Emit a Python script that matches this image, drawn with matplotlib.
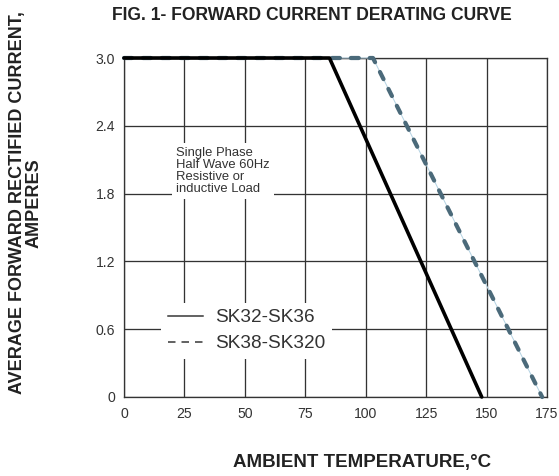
import matplotlib
matplotlib.use("Agg")
import matplotlib.pyplot as plt
from matplotlib.lines import Line2D

plt.rcParams['font.family'] = ['Liberation Sans', 'DejaVu Sans']

# Data
temp_a = [0, 85, 148]
curr_a = [3.0, 3.0, 0.0]
temp_b = [0, 103, 173]
curr_b = [3.0, 3.0, 0.0]
label_a = "SK32-SK36"
label_b = "SK38-SK320"
xticks = [0, 25, 50, 75, 100, 125, 150, 175]
yticks = [0, 0.6, 1.2, 1.8, 2.4, 3.0]
ytick_labels = ["0", "0.6", "1.2", "1.8", "2.4", "3.0"]

DPI = 72
fig = plt.figure(figsize=(559 / DPI, 476 / DPI), dpi=DPI)
ax = fig.add_axes([124 / 559, 1 - 397 / 476, (547 - 124) / 559, (397 - 58) / 476])

grid_c = '#333333'
ax.set_xlim(0, 175)
ax.set_ylim(0, 3.0)
ax.set_xticks(xticks)
ax.set_xticklabels([str(t) for t in xticks])
ax.set_yticks(yticks)
ax.set_yticklabels(ytick_labels)
ax.tick_params(length=0, labelsize=14, colors='#333333', pad=9)
ax.tick_params(axis='x', pad=10)
ax.grid(True, color=grid_c, linewidth=1.3)
ax.set_axisbelow(True)
for s in ax.spines.values():
    s.set_color(grid_c)
    s.set_linewidth(1.3)

# dashed curve with thin light underline
ax.plot(temp_b, curr_b, color='#b5d3e3', linewidth=1.0, zorder=3, clip_on=False)
ax.plot(temp_b, curr_b, color='#4b6a7a', linewidth=4.2, dashes=(1.9, 2.6),
        zorder=4, clip_on=False, solid_capstyle='round', dash_capstyle='round')
ax.plot(temp_a, curr_a, color='black', linewidth=3.6, zorder=5, clip_on=False,
        solid_capstyle='round')

ax.text(21.5, 2.21, "Single Phase\nHalf Wave 60Hz\nResistive or\ninductive Load",
        fontsize=13, color='#333333', va='top', ha='left', linespacing=1.0,
        zorder=6,
        bbox=dict(facecolor='white', edgecolor='none', pad=4))

handles = [Line2D([], [], color='#333333', linewidth=1.5),
           Line2D([], [], color='#333333', linewidth=1.5, dashes=(5, 4))]
leg = ax.legend(handles, [label_a, label_b], loc='lower left',
                bbox_to_anchor=((161 - 124) / 423, (397 - 359) / 339),
                fontsize=19, frameon=True, fancybox=False, framealpha=1,
                edgecolor='none', facecolor='white', handlelength=1.85,
                handletextpad=0.65, labelspacing=0.45, borderpad=0.35,
                borderaxespad=0, labelcolor='#333333')
leg.set_zorder(7)

fig.text(312 / 559, 1 - 15.5 / 476, "FIG. 1- FORWARD CURRENT DERATING CURVE",
         fontsize=17.5, fontweight='bold', color='#222222', ha='center', va='center')
fig.text(362 / 559, 1 - 462 / 476, "AMBIENT TEMPERATURE,°C",
         fontsize=18.7, fontweight='bold', color='#222222', ha='center', va='center')
fig.text(26 / 559, 1 - 203 / 476, "AVERAGE FORWARD RECTIFIED CURRENT,\nAMPERES",
         fontsize=18, fontweight='bold', color='#222222', ha='center', va='center',
         rotation=90, multialignment='center', linespacing=1.0)

fig.savefig("out.png", dpi=DPI)
